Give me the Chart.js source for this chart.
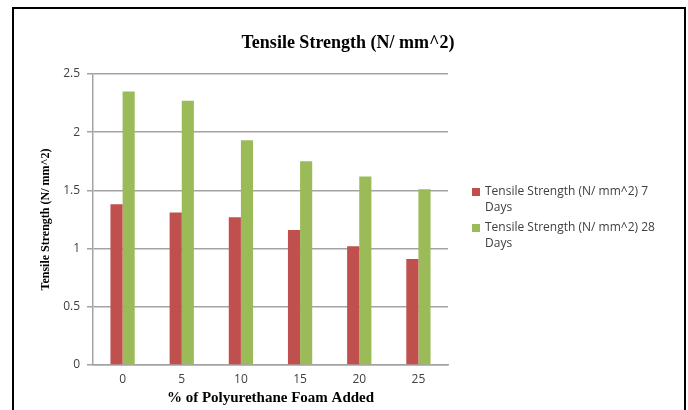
<!DOCTYPE html>
<html>
<head>
<meta charset="utf-8">
<script src="https://cdn.jsdelivr.net/npm/chart.js@4.4.1/dist/chart.umd.min.js"></script>
<style>
  html, body { margin: 0; padding: 0; background: #fff; overflow: hidden; }
  #wrap { position: relative; width: 688px; height: 410px; }
  #frame {
    position: absolute; left: 12px; top: 7px; width: 674px; height: 500px;
    box-sizing: border-box; border: 2px solid #000; pointer-events: none;
  }
</style>
</head>
<body>
<div id="wrap">
  <canvas id="chart"></canvas>
  <div id="frame"></div>
</div>
<script>
// DATA
const categories = ["0", "5", "10", "15", "20", "25"];
const days7 = [1.38, 1.31, 1.27, 1.16, 1.02, 0.91];
const days28 = [2.35, 2.27, 1.93, 1.75, 1.62, 1.51];
const yTicks = [0, 0.5, 1, 1.5, 2, 2.5];
const seriesNames = [
  "Tensile Strength (N/ mm^2) 7 Days",
  "Tensile Strength (N/ mm^2) 28 Days",
];
const chartTitle = "Tensile Strength (N/ mm^2)";
const xTitle = "% of Polyurethane Foam Added";
const yTitle = "Tensile Strength (N/ mm^2)";

const SERIF = "'Liberation Serif', 'Times New Roman', serif";
const SANS = "'Open Sans', 'Liberation Sans', sans-serif";
const GRID = "#a3a3a3";
const TEXT = "#404040";

// titulo + legenda desenhados a mao (legenda com quebra de linha)
const extras = {
  id: "extras",
  afterDraw(chart) {
    const ctx = chart.ctx;
    ctx.save();
    ctx.fillStyle = "#000";
    ctx.font = "bold 18px " + SERIF;
    ctx.textAlign = "center";
    ctx.textBaseline = "middle";
    ctx.fillText(chartTitle, 348, 43);

    ctx.font = "12px " + SANS;
    ctx.textAlign = "left";
    const maxW = 185;
    let y = 192;
    chart.data.datasets.forEach((ds) => {
      ctx.fillStyle = ds.backgroundColor;
      ctx.fillRect(472, y - 4, 8, 8);
      // quebra simples por palavras
      const words = ds.label.split(" ");
      const lines = [];
      let line = "";
      words.forEach((w) => {
        const test = line ? line + " " + w : w;
        if (ctx.measureText(test).width > maxW && line) {
          lines.push(line);
          line = w;
        } else line = test;
      });
      lines.push(line);
      ctx.fillStyle = TEXT;
      lines.forEach((l, i) => ctx.fillText(l, 485, y + i * 16));
      y += lines.length * 16 + 4;
    });
    ctx.restore();
  },
};

const chart = new Chart(document.getElementById("chart"), {
  type: "bar",
  data: {
    labels: categories,
    datasets: [
      { label: seriesNames[0], data: days7, backgroundColor: "#c0504d" },
      { label: seriesNames[1], data: days28, backgroundColor: "#9bbb59" },
    ],
  },
  options: {
    responsive: true,
    maintainAspectRatio: false,
    animation: false,
    layout: { padding: { left: 12, right: 240, top: 74, bottom: 0 } },
    datasets: { bar: { categoryPercentage: 0.41, barPercentage: 1.0 } },
    plugins: { legend: { display: false }, tooltip: { enabled: false } },
    scales: {
      x: {
        grid: { display: false, drawTicks: false, tickLength: 0 },
        border: { display: true, color: GRID, width: 1.5 },
        ticks: { color: TEXT, font: { family: SANS, size: 12 }, padding: 7 },
        title: {
          display: true,
          text: xTitle,
          color: "#000",
          font: { family: SERIF, size: 15, weight: "bold" },
          padding: { top: 0, bottom: 3 },
        },
        afterFit: (s) => { s.height = 45; },
      },
      y: {
        min: 0,
        max: 2.5,
        afterBuildTicks: (s) => { s.ticks = yTicks.map((v) => ({ value: v })); },
        grid: { color: GRID, lineWidth: 1.5, tickLength: 6 },
        border: { display: true, color: GRID, width: 1.5 },
        ticks: {
          color: TEXT,
          font: { family: SANS, size: 12 },
          padding: 7,
          callback: (v) => String(v),
        },
        title: {
          display: true,
          text: yTitle,
          color: "#000",
          font: { family: SERIF, size: 12, weight: "bold" },
          padding: { top: 27, bottom: 0 },
        },
        afterFit: (s) => { s.width = 81; },
      },
    },
  },
  plugins: [extras],
});
</script>
</body>
</html>
